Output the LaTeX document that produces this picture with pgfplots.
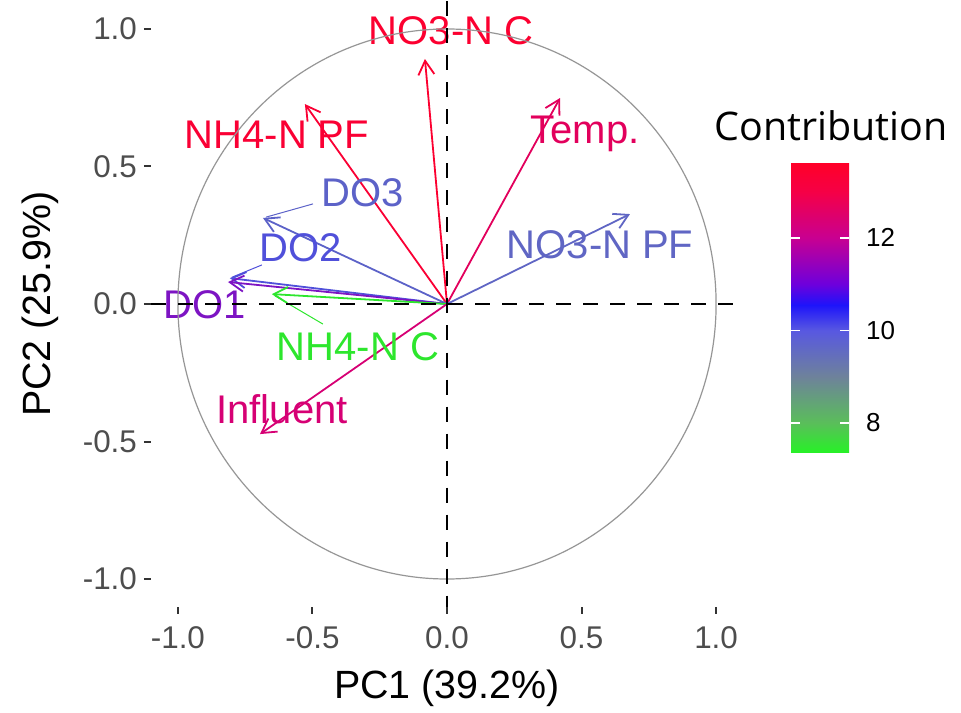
\documentclass[border=0pt]{standalone}
\usepackage{fontspec}
\setmainfont{Liberation Sans}
\newfontfamily\legendfont{Open Sans}
\usepackage{pgfplots}
\pgfplotsset{compat=1.18}
\usetikzlibrary{arrows.meta}

% variable colours, taken from the contribution colour scale
\definecolor{cNOC}{RGB}{252,0,48}
\definecolor{cNHPF}{RGB}{250,0,52}
\definecolor{cTemp}{RGB}{226,0,92}
\definecolor{cInf}{RGB}{214,0,116}
\definecolor{cDOa}{RGB}{125,20,195}
\definecolor{cDOb}{RGB}{80,80,218}
\definecolor{cDOc}{RGB}{92,98,200}
\definecolor{cNOPF}{RGB}{96,102,196}
\definecolor{cNHC}{RGB}{45,230,45}
\definecolor{grey20}{RGB}{51,51,51}
\definecolor{grey30}{RGB}{77,77,77}
\definecolor{circlegrey}{RGB}{150,150,150}

\tikzset{
  pcavec/.style={-{Straight Barb[length=7pt,width=8pt]}, line width=0.9pt, line join=round},
  varlabel/.style={anchor=base, font=\fontsize{20}{24}\selectfont, inner sep=0pt},
  leader/.style={line width=0.5pt},
}

\begin{document}
\begin{tikzpicture}
\useasboundingbox (-75.5pt,-52.75pt) rectangle (405pt,303.25pt);
\begin{axis}[
  at={(0,0)}, anchor=south west,
  scale only axis, width=296pt, height=302.5pt,
  xmin=-1.1, xmax=1.1, ymin=-1.1, ymax=1.1,
  axis line style={draw=none},
  clip=false,
  xtick={-1,-0.5,0,0.5,1}, ytick={-1,-0.5,0,0.5,1},
  xticklabels={-1.0,-0.5,0.0,0.5,1.0},
  yticklabels={-1.0,-0.5,0.0,0.5,1.0},
  tick align=outside, xtick pos=bottom, ytick pos=left,
  major tick length=3.5pt,
  every tick/.style={draw=grey20, line width=1pt},
  ticklabel style={font=\fontsize{15.7}{18}\selectfont, text=grey30},
  xticklabel style={yshift=-3pt},
  xlabel={PC1 (39.2\%)}, ylabel={PC2 (25.9\%)},
  label style={font=\fontsize{19.7}{22}\selectfont},
  xlabel style={at={(axis description cs:0.5,-0.1347)}, anchor=center},
  ylabel style={at={(axis description cs:-0.1875,0.5)}, anchor=center, rotate=0},
  point meta min=7.37, point meta max=13.62,
  colormap={contrib}{
    rgb255(0cm)=(40,240,40)
    rgb255(0.63cm)=(90,190,90)
    rgb255(1.63cm)=(110,130,155)
    rgb255(2.63cm)=(88,88,225)
    rgb255(3.18cm)=(30,20,250)
    rgb255(3.63cm)=(110,0,220)
    rgb255(4.63cm)=(200,0,145)
    rgb255(5.63cm)=(245,0,70)
    rgb255(6.25cm)=(255,0,40)
  },
  colorbar,
  colorbar/width=29pt,
  colorbar style={
    at={(311.5pt,221.75pt)}, anchor=north west,
    scale only axis, width=29pt, height=144.5pt,
    ytick={8,10,12}, yticklabels={8,10,12},
    yticklabel pos=right,
    tick align=inside,
    major tick length=4.5pt,
    every tick/.style={draw=white, line width=0.8pt},
    axis line style={draw=none},
    yticklabel style={font=\fontsize{13}{15}\selectfont, text=black, xshift=5pt},
    extra y ticks={8,10,12},
    extra y tick labels={},
    extra y tick style={ytick pos=left, tick align=inside},
  },
]
% loading vectors of the variables on PC1/PC2
\addplot[pcavec, cNOC]  coordinates {(0,0) (-0.082,0.891)};
\addplot[pcavec, cNHPF] coordinates {(0,0) (-0.528,0.727)};
\addplot[pcavec, cTemp] coordinates {(0,0) (0.420,0.749)};
\addplot[pcavec, cNOPF] coordinates {(0,0) (0.680,0.327)};
\addplot[pcavec, cDOc]  coordinates {(0,0) (-0.684,0.313)};
\addplot[pcavec, cDOb]  coordinates {(0,0) (-0.807,0.094)};
\addplot[pcavec, cDOa]  coordinates {(0,0) (-0.814,0.080)};
\addplot[pcavec, cNHC]  coordinates {(0,0) (-0.651,0.036)};
\addplot[pcavec, cInf]  coordinates {(0,0) (-0.695,-0.473)};

% label leader lines
\addplot[leader, cDOc] coordinates {(-0.672,0.316) (-0.498,0.364)};
\addplot[leader, cDOb] coordinates {(-0.800,0.097) (-0.688,0.142)};
\addplot[leader, cNHC] coordinates {(-0.640,0.030) (-0.461,-0.073)};

% variable names
\node[varlabel, text=cNOC]  at (axis cs:0.015,0.942)  {NO3-N C};
\node[varlabel, text=cNHPF] at (axis cs:-0.632,0.567) {NH4-N PF};
\node[varlabel, text=cTemp] at (axis cs:0.513,0.585)  {Temp.};
\node[varlabel, text=cDOc]  at (axis cs:-0.312,0.356) {DO3};
\node[varlabel, text=cDOb]  at (axis cs:-0.543,0.156) {DO2};
\node[varlabel, text=cNOPF] at (axis cs:0.569,0.164)  {NO3-N PF};
\node[varlabel, text=cDOa]  at (axis cs:-0.900,-0.051) {DO1};
\node[varlabel, text=cNHC]  at (axis cs:-0.331,-0.207) {NH4-N C};
\node[varlabel, text=cInf]  at (axis cs:-0.613,-0.436) {Influent};

% correlation circle and reference axes
\draw[circlegrey, line width=0.6pt] (axis cs:0,0) ellipse [x radius=1, y radius=1];
\addplot[black, line width=1.2pt, dash pattern=on 7.5pt off 6pt] coordinates {(-1.1,0) (1.1,0)};
\addplot[black, line width=1.2pt, dash pattern=on 7.5pt off 6pt] coordinates {(0,1.1) (0,-1.1)};
\end{axis}
\node[anchor=base west, inner sep=0pt, font=\legendfont\fontsize{19.7}{22}\selectfont] at (281.5pt,232.75pt) {Contribution};
\end{tikzpicture}
\end{document}
